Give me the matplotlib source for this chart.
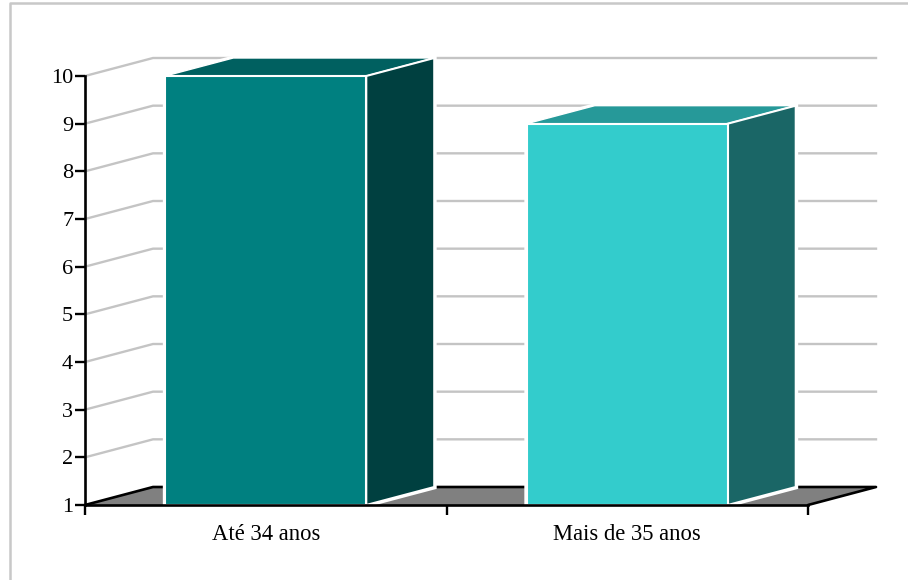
import matplotlib
matplotlib.use('Agg')
import matplotlib.pyplot as plt
from matplotlib.lines import Line2D
from matplotlib.patches import Polygon

plt.rcParams['font.family'] = ['Liberation Serif', 'DejaVu Serif']

categories = ['Até 34 anos', 'Mais de 35 anos']
values = [10, 9]
yticks = [1, 2, 3, 4, 5, 6, 7, 8, 9, 10]

front_colors = ['#008080', '#33CCCC']
top_colors = ['#006060', '#269999']
side_colors = ['#004040', '#1A6666']

W, H = 908, 580
fig = plt.figure(figsize=(W / 100, H / 100), dpi=100)

# frame is only visible on top and left
fig.add_artist(Line2D([9.5 / W, 9.5 / W, 1], [0, 1 - 3 / H, 1 - 3 / H],
                      color='#C8C8C8', linewidth=1.8))

# axes box is the front plane of the fake 3d chart
ax = fig.add_axes([85 / W, 1 - 505 / H, 723 / W, 429 / H])
ax.set_xlim(0, 2)
ax.set_ylim(1, 10)
ax.patch.set_visible(False)
for s in ax.spines.values():
    s.set_visible(False)

# depth of the chart, in data units
dx = 68 / 723 * 2
dy = 18 / 429 * 9
bar_width = 0.556

# floor
ax.add_patch(Polygon([(0, 1), (dx, 1 + dy), (2 + dx, 1 + dy), (2, 1)],
                     closed=True, facecolor='#808080', edgecolor='none',
                     clip_on=False, zorder=1))
ax.plot([0, dx, 2 + dx, 2], [1, 1 + dy, 1 + dy, 1], color='black',
        linewidth=1.9, clip_on=False, zorder=2, solid_capstyle='round')

# grid on side and back wall
for v in yticks[1:]:
    ax.plot([0, dx, 2 + dx], [v, v + dy, v + dy], color='#C4C4C4',
            linewidth=1.7, clip_on=False, zorder=1)

# bars
for i, v in enumerate(values):
    l = i + 0.5 - bar_width / 2
    r = i + 0.5 + bar_width / 2
    # white halo, hides the grid next to the bar
    ax.add_patch(Polygon([(r, 1), (r + dx, 1 + dy), (r + dx, v + dy),
                          (l + dx, v + dy), (l, v), (l, 1)], closed=True,
                         facecolor='white', edgecolor='white', linewidth=3.5,
                         clip_on=False, zorder=3))
    ax.add_patch(Polygon([(l, v), (r, v), (r + dx, v + dy), (l + dx, v + dy)],
                         closed=True, facecolor=top_colors[i],
                         edgecolor='white', linewidth=1, clip_on=False, zorder=4))
    ax.add_patch(Polygon([(r, 1), (r + dx, 1 + dy), (r + dx, v + dy), (r, v)],
                         closed=True, facecolor=side_colors[i],
                         edgecolor='white', linewidth=1.5, clip_on=False, zorder=4))
    ax.add_patch(Polygon([(l, 1), (r, 1), (r, v), (l, v)], closed=True,
                         facecolor=front_colors[i], edgecolor='white',
                         linewidth=1.5, clip_on=False, zorder=5))

# axis lines and ticks
ax.plot([0, 0], [1, 10], color='black', linewidth=1.9, clip_on=False, zorder=6)
ax.plot([0, 2], [1, 1], color='black', linewidth=1.9, clip_on=False, zorder=6)
ax.set_yticks(yticks)
ax.set_xticks([0, 1, 2])
ax.set_xticklabels([])
ax.tick_params(axis='y', length=7, width=1.7, color='black', labelsize=16, pad=1.5)
ax.tick_params(axis='x', length=7, width=1.7, color='black')
for i, c in enumerate(categories):
    ax.text(i + 0.5, 1 - 30 / 429 * 9, c, ha='center', va='center',
            fontsize=16.3, color='black', clip_on=False)

fig.savefig('out.png', dpi=100)
